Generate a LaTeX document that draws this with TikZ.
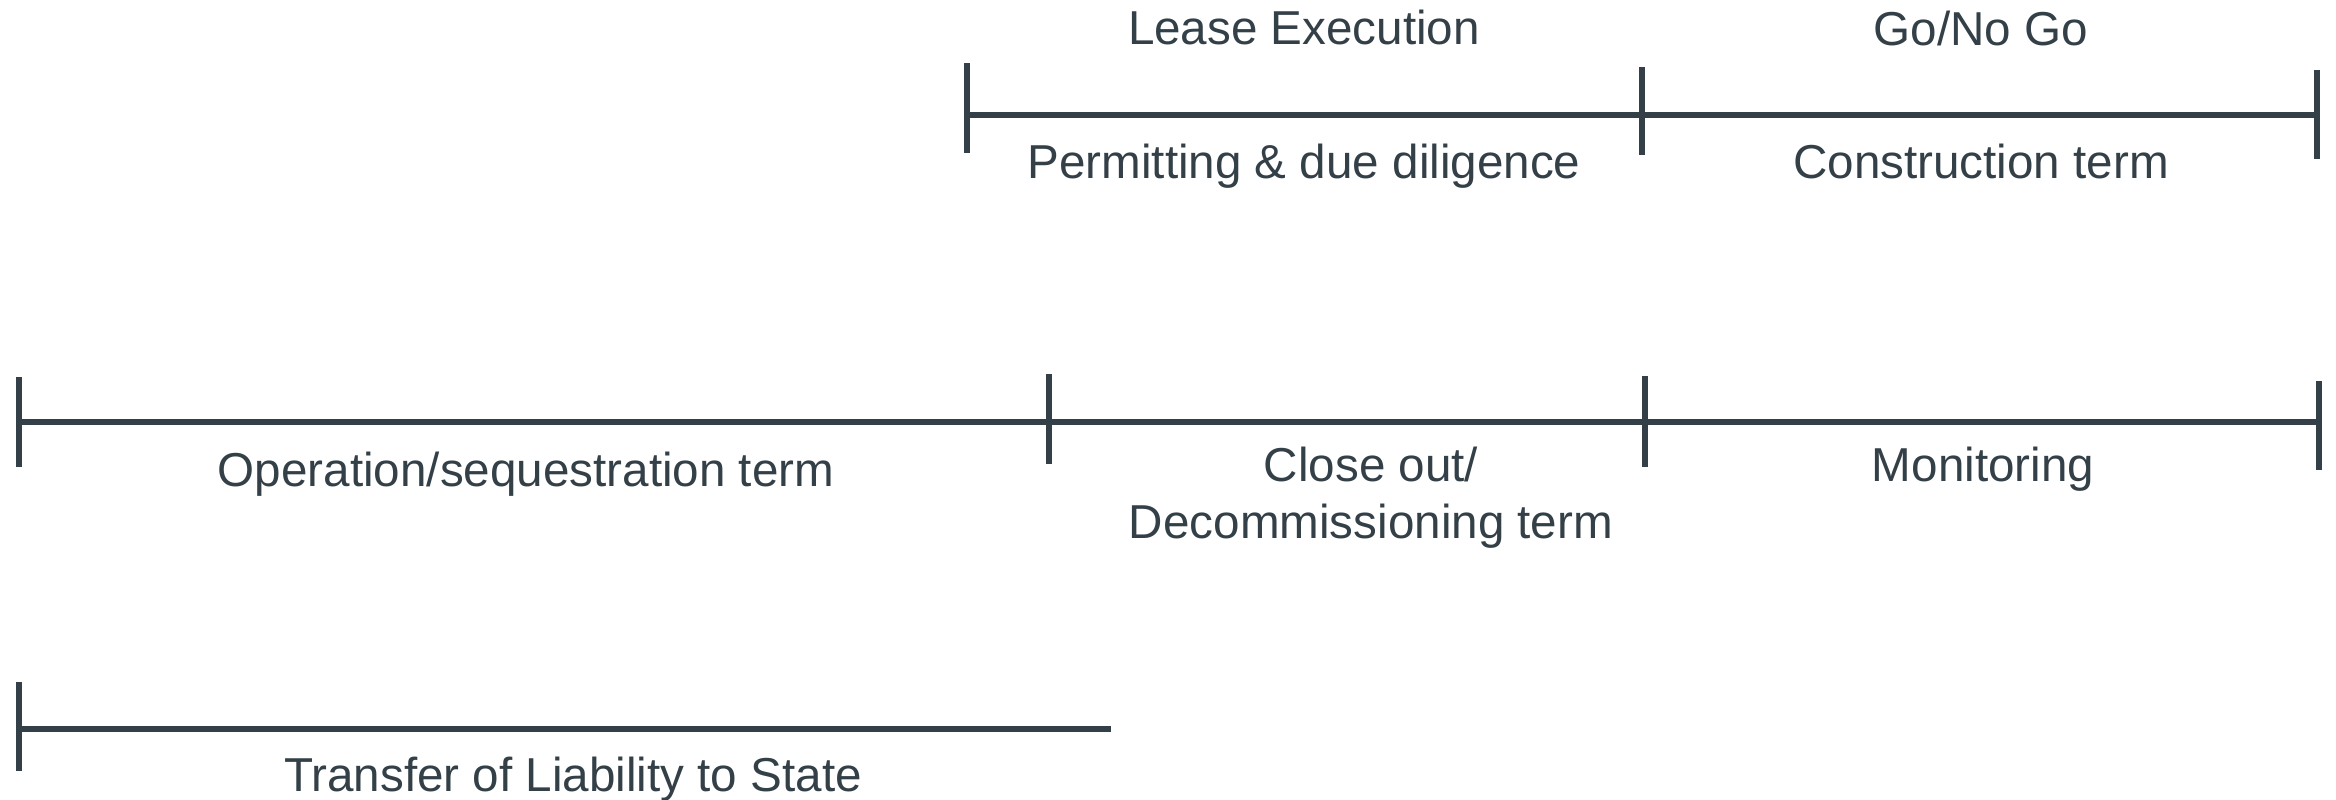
\documentclass[tikz,border=0pt]{standalone}
\usepackage{fontspec}
\setmainfont{Liberation Sans}
\definecolor{ink}{RGB}{52,64,72}
\begin{document}
\begin{tikzpicture}[x=1pt,y=-1pt,
  spanline/.style={draw=ink,line width=6.5pt},
  tickmark/.style={draw=ink,line width=6pt},
  lbl/.style={text=ink,inner sep=0pt,anchor=base,font=\fontsize{47.6}{58}\selectfont}]
\useasboundingbox (0,0) rectangle (2336,800);
% row 1
\coordinate (a0) at (967,115);
\coordinate (a1) at (1642,115);
\coordinate (a2) at (2317,115);
\coordinate (a0t) at (967,63);  \coordinate (a0b) at (967,153);
\coordinate (a1t) at (1642,67); \coordinate (a1b) at (1642,155);
\coordinate (a2t) at (2317,70); \coordinate (a2b) at (2317,159);
\draw[spanline] (a0) -- (a1) -- (a2);
\draw[tickmark] (a0t) -- (a0b);
\draw[tickmark] (a1t) -- (a1b);
\draw[tickmark] (a2t) -- (a2b);
\node[lbl] (lease) at (1304,45) {Lease Execution};
\node[lbl] (permit) at (1304,178) {Permitting \& due diligence};
\node[lbl] (gonogo) at (1981,46) {Go/No Go};
\node[lbl] (constr) at (1981,178) {Construction term};
% row 2
\coordinate (b0) at (19,422);
\coordinate (b1) at (1049,422);
\coordinate (b2) at (1645,422);
\coordinate (b3) at (2319,422);
\coordinate (b0t) at (19,377);   \coordinate (b0b) at (19,467);
\coordinate (b1t) at (1049,374); \coordinate (b1b) at (1049,464);
\coordinate (b2t) at (1645,376); \coordinate (b2b) at (1645,467);
\coordinate (b3t) at (2319,381); \coordinate (b3b) at (2319,470);
\draw[spanline] (b0) -- (b1) -- (b2) -- (b3);
\draw[tickmark] (b0t) -- (b0b);
\draw[tickmark] (b1t) -- (b1b);
\draw[tickmark] (b2t) -- (b2b);
\draw[tickmark] (b3t) -- (b3b);
\node[lbl] (oper) at (526,486) {Operation/sequestration term};
\node[lbl] (close1) at (1371,481) {Close out/};
\node[lbl] (close2) at (1371,538) {Decommissioning term};
\node[lbl] (monit) at (1983,481) {Monitoring};
% row 3
\coordinate (c0) at (19,729);
\coordinate (c1) at (1111,729);
\coordinate (c0t) at (19,682); \coordinate (c0b) at (19,771);
\draw[spanline] (c0) -- (c1);
\draw[tickmark] (c0t) -- (c0b);
\node[lbl] (transfer) at (573,791) {Transfer of Liability to State};
\end{tikzpicture}
\end{document}
